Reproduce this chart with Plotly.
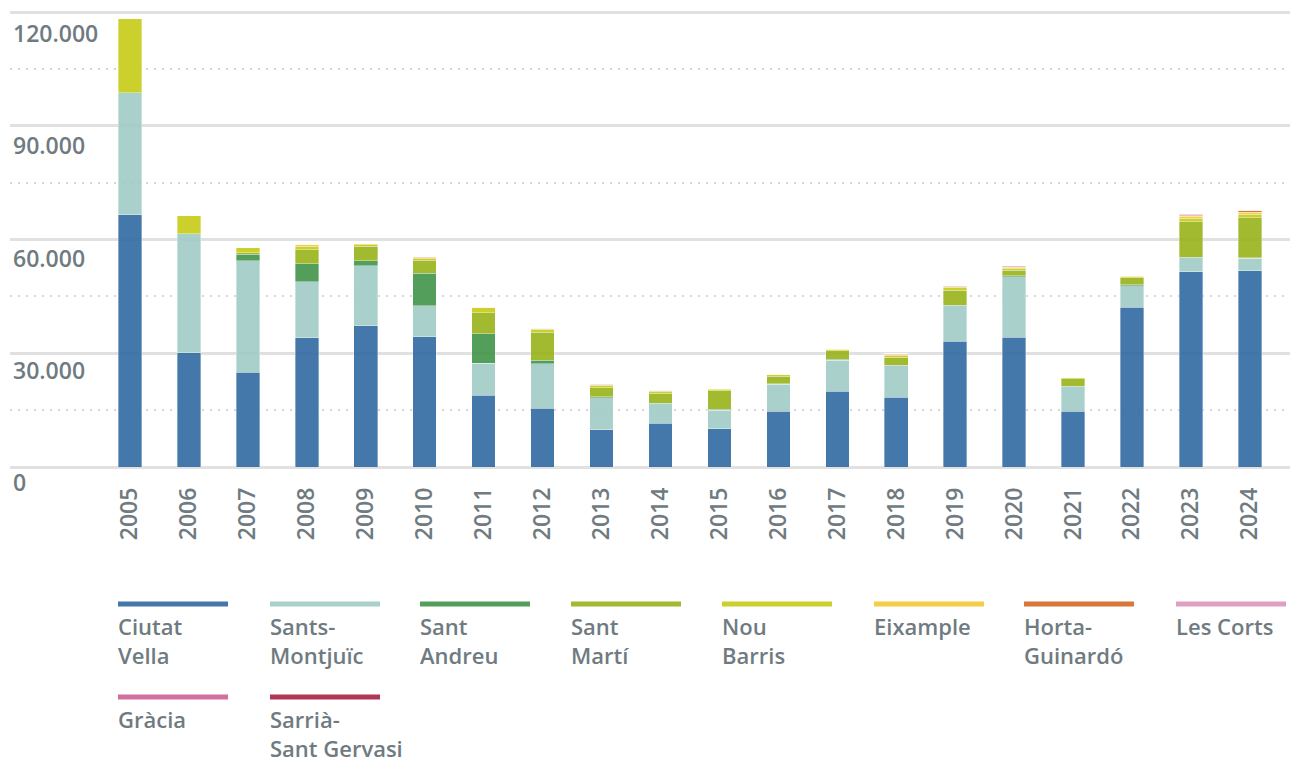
import plotly.graph_objects as go

years = [str(y) for y in range(2005, 2025)]

districts = ["Ciutat Vella", "Sants-Montjuïc", "Sant Andreu", "Sant Martí", "Nou Barris",
             "Eixample", "Horta-Guinardó", "Les Corts", "Gràcia", "Sarrià-Sant Gervasi"]
legend_labels = ["Ciutat<br>Vella", "Sants-<br>Montjuïc", "Sant<br>Andreu", "Sant<br>Martí", "Nou<br>Barris",
                 "Eixample", "Horta-<br>Guinardó", "Les Corts", "Gràcia", "Sarrià-<br>Sant Gervasi"]
colors = ["#306aa2", "#a0cbc5", "#42944a", "#98b319", "#c7cc17",
          "#f4c834", "#d46924", "#dc95ba", "#cd6093", "#a92042"]

ciutat_vella = [66570, 30150, 25050, 34120, 37290, 34300, 18880, 15440, 9790, 11560,
                10050, 14730, 20020, 18430, 33170, 34230, 14730, 42160, 51580, 51840]
sants_montjuic = [32190, 31400, 29350, 14810, 15790, 8200, 8550, 11800, 8460, 5100,
                  4950, 7060, 8200, 8280, 9330, 16030, 6430, 5710, 3620, 3280]
sant_andreu = [0, 0, 1770, 4680, 1320, 8650, 7670, 980, 270, 200,
               250, 200, 250, 150, 200, 180, 200, 150, 150, 150]
sant_marti = [0, 0, 400, 3700, 3790, 3340, 5550, 7330, 2380, 2650,
              4840, 2020, 2200, 2120, 3970, 1510, 1960, 1860, 9340, 10480]
nou_barris = [19650, 4680, 1300, 880, 450, 500, 1410, 790, 630, 530,
              450, 370, 260, 400, 720, 530, 260, 300, 980, 900]
eixample = [0, 0, 0, 630, 260, 200, 100, 180, 150, 100,
            80, 100, 120, 300, 200, 260, 80, 150, 440, 530]
horta_guinardo = [0, 0, 0, 0, 0, 100, 0, 0, 0, 0,
                  0, 0, 100, 100, 80, 150, 0, 100, 340, 420]
les_corts = [0, 0, 0, 0, 0, 150, 180, 80, 150, 80,
             0, 0, 80, 150, 100, 150, 0, 80, 100, 100]
gracia = [0, 0, 0, 0, 0, 0, 0, 0, 100, 0,
          0, 0, 0, 0, 0, 50, 0, 0, 100, 80]
sarria = [0, 0, 0, 0, 0, 0, 0, 0, 0, 0,
          0, 0, 0, 0, 0, 0, 0, 0, 150, 100]

series = [ciutat_vella, sants_montjuic, sant_andreu, sant_marti, nou_barris,
          eixample, horta_guinardo, les_corts, gracia, sarria]

y_ticks = [0, 30000, 60000, 90000, 120000]

TEXT = "#6f7b81"
FONT = "Open Sans"

fig = go.Figure()
for name, vals, col in zip(districts, series, colors):
    fig.add_trace(go.Bar(
        x=years, y=vals, name=name,
        marker=dict(color=col, opacity=0.9, line=dict(width=0.8, color="rgba(255,255,255,0.45)")),
        showlegend=False,
    ))

W, H = 1290, 760
ML, MR, MT, MB = 10, 0, 8, 293
plot_h = H - MT - MB


def py_to_paper(py):
    return (H - MB - py) / plot_h


def px_to_paper(px):
    return (px - ML) / (W - ML - MR)


shapes = []
annotations = []

# y-axis labels, inside plot, below gridlines
for v in y_ticks:
    annotations.append(dict(
        x=0, xref="paper", y=v, yref="y", xanchor="left", yanchor="middle",
        xshift=1, yshift=-(15 + 6 * v / 120000),
        text=f"{v:,}".replace(",", "."), showarrow=False,
        font=dict(family=FONT, size=23, color=TEXT, weight=600),
    ))

# custom legend (8 columns)
col_x = [118, 270, 420, 571, 722, 874, 1024, 1176]
row_line_y = [604, 697]
for i, (lab, col) in enumerate(zip(legend_labels, colors)):
    r, c = divmod(i, 8)
    x0 = col_x[c]
    ly = row_line_y[r]
    shapes.append(dict(
        type="line", xref="paper", yref="paper",
        x0=px_to_paper(x0), x1=px_to_paper(x0 + 110),
        y0=py_to_paper(ly), y1=py_to_paper(ly),
        line=dict(color=col, width=5), opacity=0.9,
    ))
    annotations.append(dict(
        x=px_to_paper(x0 - 1), xref="paper", y=py_to_paper(ly + 6), yref="paper",
        xanchor="left", yanchor="top", align="left", borderpad=0,
        text=lab, showarrow=False,
        font=dict(family=FONT, size=22, color=TEXT, weight=600),
    ))

fig.update_layout(
    barmode="stack",
    bargap=0.6,
    width=W, height=H,
    margin=dict(l=ML, r=MR, t=MT, b=MB, pad=0),
    paper_bgcolor="white", plot_bgcolor="white",
    font=dict(family=FONT, color=TEXT),
    shapes=shapes,
    annotations=annotations,
    xaxis=dict(
        type="category",
        range=[-2.035, 19.68],
        showgrid=False, zeroline=False, showline=False,
        ticks="", tickangle=-90,
        ticklabelstandoff=15,
        tickfont=dict(family=FONT, size=23, color=TEXT, weight=600),
    ),
    yaxis=dict(
        range=[0, 121100],
        tickvals=y_ticks,
        showticklabels=False,
        showgrid=True, gridcolor="#e1e1e1", gridwidth=3,
        zeroline=True, zerolinecolor="#e1e1e1", zerolinewidth=3,
        showline=False, ticks="",
        minor=dict(dtick=15000, tick0=0, showgrid=True, gridcolor="#d3d6d8",
                   gridwidth=2, griddash="2px,6px"),
    ),
)

fig.write_html("out.html", config={"displayModeBar": False},
               post_script="document.body.style.margin='0';")
